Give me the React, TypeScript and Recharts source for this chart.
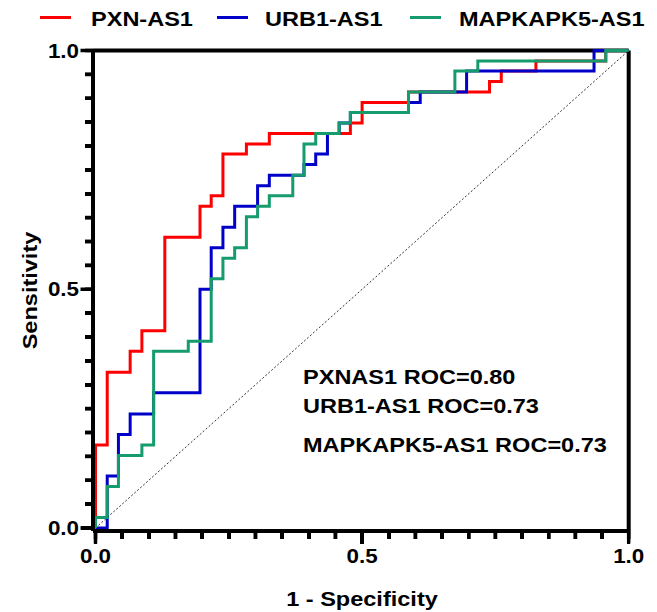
import React from "react";
import { LineChart, Line, XAxis, YAxis, ReferenceLine } from "recharts";

// ---- data (ROC corner points: false positive rate, true positive rate) ----
const seriesNames = ["PXN-AS1", "URB1-AS1", "MAPKAPK5-AS1"];
const seriesColors = ["#FF0000", "#0000C8", "#159B6C"];

const pxnFpr = [0, 0, 0.022, 0.065, 0.087, 0.13, 0.196, 0.217, 0.239, 0.283, 0.326, 0.478, 0.5, 0.587, 0.739, 0.761, 0.826, 0.957, 1];
const pxnTpr = [0, 0.174, 0.326, 0.37, 0.413, 0.609, 0.674, 0.696, 0.783, 0.804, 0.826, 0.848, 0.891, 0.913, 0.935, 0.957, 0.978, 1, 1];

const urbFpr = [0, 0.022, 0.043, 0.065, 0.109, 0.196, 0.217, 0.239, 0.261, 0.304, 0.326, 0.391, 0.413, 0.435, 0.457, 0.478, 0.587, 0.609, 0.696, 0.935, 1];
const urbTpr = [0, 0.109, 0.196, 0.239, 0.283, 0.5, 0.587, 0.63, 0.674, 0.717, 0.739, 0.761, 0.783, 0.826, 0.848, 0.87, 0.891, 0.913, 0.957, 1, 1];

const mapFpr = [0, 0, 0.022, 0.043, 0.087, 0.109, 0.174, 0.217, 0.239, 0.261, 0.283, 0.304, 0.326, 0.37, 0.391, 0.413, 0.457, 0.478, 0.587, 0.674, 0.717, 0.957, 1];
const mapTpr = [0, 0.022, 0.087, 0.152, 0.174, 0.37, 0.391, 0.522, 0.565, 0.587, 0.652, 0.674, 0.696, 0.739, 0.804, 0.826, 0.848, 0.87, 0.913, 0.957, 0.978, 1, 1];

const rocLabels = ["PXNAS1 ROC=0.80", "URB1-AS1 ROC=0.73", "MAPKAPK5-AS1 ROC=0.73"];

const axisTicks = [0, 0.05, 0.1, 0.15, 0.2, 0.25, 0.3, 0.35, 0.4, 0.45, 0.5, 0.55, 0.6, 0.65, 0.7, 0.75, 0.8, 0.85, 0.9, 0.95, 1];
const majorTicks = [0, 0.5, 1];
const xTitle = "1 - Specificity";
const yTitle = "Sensitivity";

// ---- helpers ----
const toPoints = (fpr: number[], tpr: number[]) => fpr.map((f, i) => ({ fpr: f, tpr: tpr[i] }));
const seriesData = [toPoints(pxnFpr, pxnTpr), toPoints(urbFpr, urbTpr), toPoints(mapFpr, mapTpr)];

const FONT = "'Liberation Sans', Arial, Helvetica, sans-serif";
const SX = 1.12;
const INK = "#000000";
const AXIS_LINE = { stroke: INK, strokeWidth: 4 };
const TICK_LINE = { stroke: INK, strokeWidth: 3.5 };
const MINOR = 8;
const MAJOR = 12.5;
const TW = 3.5;

// chart geometry (margins / axis sizes)
const W = 657;
const H = 612;
const M = { top: 50.5, right: 28.3, bottom: 41, left: 33 };
const Y_AXIS_W = 60;
const X_AXIS_H = 40;
const PAD_X = 2.5;
const PAD_Y = 3;
const axisX = M.left + Y_AXIS_W; // y-axis line
const axisY = H - M.bottom - X_AXIS_H; // x-axis line

const isMajor = (v: number) => majorTicks.some((m) => Math.abs(m - v) < 1e-6);

function SText({ x, y, size, anchor = "start", children }: any) {
  return (
    <text
      transform={`translate(${x} ${y}) scale(${SX} 1)`}
      textAnchor={anchor}
      fontSize={size}
      fontWeight="bold"
      fontFamily={FONT}
      fill={INK}
    >
      {children}
    </text>
  );
}

// (x, y) = end of the library's minor tick line; draw the full mark + label
const renderXTick = (props: any) => {
  const { x, y, payload } = props;
  const px = Number(x);
  const base = Number(y) - MINOR;
  const major = isMajor(payload.value);
  return (
    <g>
      <rect x={px - TW / 2} y={base} width={TW} height={major ? MAJOR : MINOR} fill={INK} />
      {major && (
        <SText x={px} y={base + 32} size={20} anchor="middle">
          {payload.value.toFixed(1)}
        </SText>
      )}
    </g>
  );
};

const renderYTick = (props: any) => {
  const { x, y, payload } = props;
  const base = Number(x) + MINOR;
  const py = Number(y);
  const major = isMajor(payload.value);
  const len = major ? MAJOR : MINOR;
  return (
    <g>
      <rect x={base - len} y={py - TW / 2} width={len} height={TW} fill={INK} />
      {major && (
        <SText x={base - 14} y={py + 7} size={20} anchor="end">
          {payload.value.toFixed(1)}
        </SText>
      )}
    </g>
  );
};

// same linear mapping the axes use (domain [0,1] with padding), for the tick-mark overlay
const xPix = (t: number) => axisX + PAD_X + t * (W - M.right - axisX - PAD_X);
const yPix = (t: number) => axisY - PAD_Y - t * (axisY - PAD_Y - M.top);

// ---- HTML text overlay (legend, ROC labels, axis titles) ----
const FS = 21;
const ASC = 17.8;
const textStyle: React.CSSProperties = {
  position: "absolute",
  margin: 0,
  fontFamily: FONT,
  fontWeight: "bold",
  fontSize: FS,
  lineHeight: `${FS}px`,
  height: FS,
  color: INK,
  whiteSpace: "nowrap",
  transformOrigin: "0 0",
  transform: `scaleX(${SX})`,
};

const legendLayout = [
  { lx: 40, tx: 91 },
  { lx: 217, tx: 265 },
  { lx: 410, tx: 459 },
];
const labelBaselines = [384, 413, 452];

export default function App() {
  return (
    <div style={{ position: "absolute", left: 0, top: 0, width: W, height: H, background: "#fff" }}>
      <LineChart width={W} height={H} margin={M}>
        <XAxis
          type="number"
          dataKey="fpr"
          domain={[0, 1]}
          ticks={axisTicks}
          interval={0}
          tick={renderXTick}
          tickLine={TICK_LINE}
          tickSize={MINOR}
          tickMargin={0}
          height={X_AXIS_H}
          padding={{ left: PAD_X, right: 0 }}
          axisLine={AXIS_LINE}
        />
        <YAxis
          type="number"
          domain={[0, 1]}
          ticks={axisTicks}
          interval={0}
          tick={renderYTick}
          tickLine={TICK_LINE}
          tickSize={MINOR}
          tickMargin={0}
          width={Y_AXIS_W}
          padding={{ top: 0, bottom: PAD_Y }}
          axisLine={AXIS_LINE}
        />
        <ReferenceLine y={1} stroke={INK} strokeWidth={4} />
        <ReferenceLine x={1} stroke={INK} strokeWidth={4} />
        <ReferenceLine
          segment={[{ x: 0, y: 0 }, { x: 1, y: 1 }]}
          stroke="#333"
          strokeWidth={1}
          strokeDasharray="2 2"
        />
        {seriesData.map((d, i) => (
          <Line
            key={seriesNames[i]}
            name={seriesNames[i]}
            data={d}
            dataKey="tpr"
            type="stepAfter"
            stroke={seriesColors[i]}
            strokeWidth={3}
            dot={false}
            activeDot={false}
            isAnimationActive={false}
          />
        ))}
      </LineChart>

      {/* tick marks (duplicate of the axis ticks, guaranteed visible) */}
      {axisTicks.map((t) => {
        const len = isMajor(t) ? MAJOR : MINOR;
        return (
          <React.Fragment key={`tk${t}`}>
            <div
              style={{
                position: "absolute",
                left: xPix(t) - TW / 2,
                top: axisY,
                width: TW,
                height: len,
                background: INK,
              }}
            />
            <div
              style={{
                position: "absolute",
                left: axisX - len,
                top: yPix(t) - TW / 2,
                width: len,
                height: TW,
                background: INK,
              }}
            />
          </React.Fragment>
        );
      })}

      {seriesNames.map((n, i) => (
        <React.Fragment key={n}>
          <div
            style={{
              position: "absolute",
              left: legendLayout[i].lx,
              top: 15.5,
              width: 31,
              height: 3,
              background: seriesColors[i],
            }}
          />
          <div style={{ ...textStyle, left: legendLayout[i].tx, top: 26 - ASC }}>{n}</div>
        </React.Fragment>
      ))}
      {rocLabels.map((t, i) => (
        <div key={t} style={{ ...textStyle, left: 303, top: labelBaselines[i] - ASC }}>
          {t}
        </div>
      ))}
      <div
        style={{
          ...textStyle,
          left: 0,
          width: 724,
          textAlign: "center",
          top: 606 - ASC,
          transformOrigin: "362px 0",
        }}
      >
        {xTitle}
      </div>
      <div
        style={{
          ...textStyle,
          left: 28.5 - 100,
          width: 200,
          textAlign: "center",
          top: 290 - FS / 2,
          transformOrigin: "50% 50%",
          transform: `rotate(-90deg) scaleX(${SX})`,
        }}
      >
        {yTitle}
      </div>
    </div>
  );
}
